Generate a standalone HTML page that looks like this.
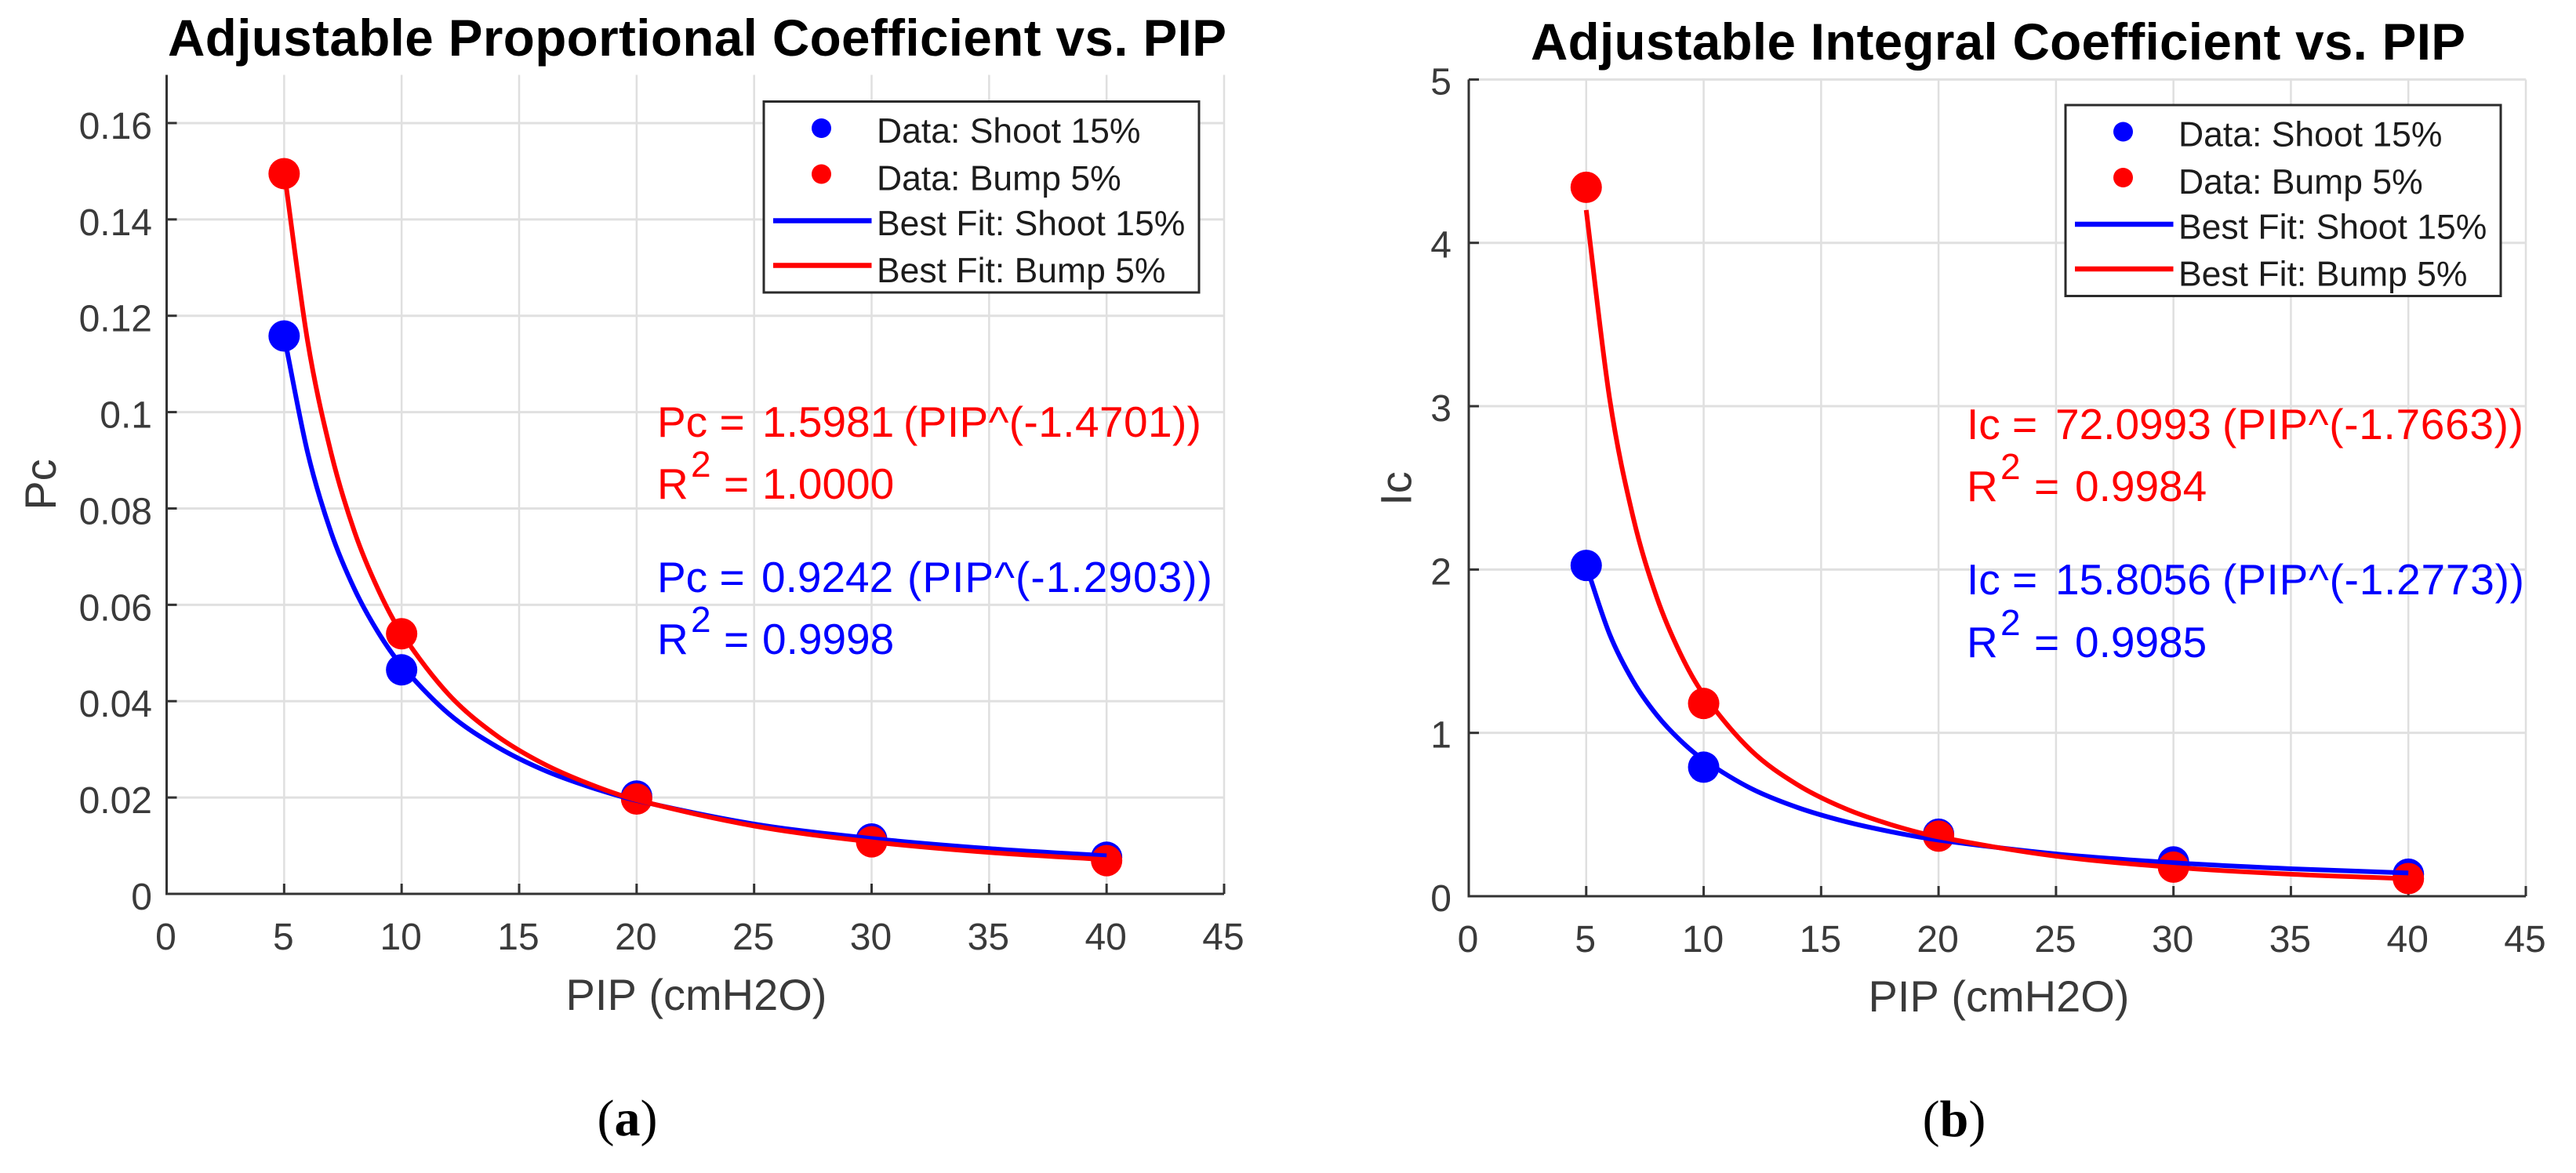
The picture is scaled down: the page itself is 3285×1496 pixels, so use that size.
<!DOCTYPE html>
<html lang="en">
<head>
<meta charset="utf-8">
<title>Adjustable coefficients vs. PIP</title>
<style>
  html, body { margin: 0; padding: 0; background: #ffffff; }
  svg { display: block; }
  text { font-family: "Liberation Sans", Arial, sans-serif; font-kerning: none; }
  .tick { font-size: 48px; fill: #3a3a3a; }
  .axis-title { font-size: 56px; fill: #3a3a3a; }
  .title { font-size: 65.6px; font-weight: bold; fill: #000000; }
  .legend-text { font-size: 44.5px; fill: #1c1c1c; }
  .anno { font-size: 55px; }
  .sup { font-size: 46px; }
  .red { fill: #ff0000; }
  .blue { fill: #0000ff; }
  .caption { font-family: "Liberation Serif", serif; font-size: 66px; fill: #000000; }
</style>
</head>
<body>
<svg id="figure" xmlns="http://www.w3.org/2000/svg" width="3285" height="1496" viewBox="0 0 3285 1496">
  <rect x="0" y="0" width="3285" height="1496" fill="#ffffff"/>

  <g id="panel-a"></g>
  <g id="panel-b"></g>

  <!-- Panel a static text -->
  <text class="title" x="214" y="71" textLength="1350">Adjustable Proportional Coefficient vs. PIP</text>
  <text class="axis-title" x="888" y="1288" text-anchor="middle">PIP (cmH2O)</text>
  <text class="axis-title" transform="translate(71 618) rotate(-90)" text-anchor="middle">Pc</text>

  <g>
    <text class="anno red" x="838" y="557">Pc =</text>
    <text class="anno red" x="972" y="557">1.5981</text>
    <text class="anno red" x="1152" y="557" textLength="380">(PIP^(-1.4701))</text>
    <text class="anno red" x="838" y="636">R</text>
    <text class="sup red" x="881" y="608">2</text>
    <text class="anno red" x="923" y="636">=</text>
    <text class="anno red" x="972" y="636">1.0000</text>
  </g>
  <g>
    <text class="anno blue" x="838" y="755">Pc =</text>
    <text class="anno blue" x="971" y="755">0.9242</text>
    <text class="anno blue" x="1157" y="755" textLength="389">(PIP^(-1.2903))</text>
    <text class="anno blue" x="838" y="834">R</text>
    <text class="sup blue" x="881" y="806">2</text>
    <text class="anno blue" x="923" y="834">=</text>
    <text class="anno blue" x="972" y="834">0.9998</text>
  </g>

  <g>
    <rect x="974" y="129.5" width="555" height="243.5" fill="#ffffff" stroke="#2b2b2b" stroke-width="3"/>
    <circle cx="1047.5" cy="163.5" r="12.5" fill="#0000ff"/>
    <text class="legend-text" x="1118" y="182">Data: Shoot 15%</text>
    <circle cx="1047.5" cy="222" r="12.5" fill="#ff0000"/>
    <text class="legend-text" x="1118" y="242.5">Data: Bump 5%</text>
    <line x1="986" y1="281.5" x2="1111.5" y2="281.5" stroke="#0000ff" stroke-width="6.5"/>
    <text class="legend-text" x="1118" y="300">Best Fit: Shoot 15%</text>
    <line x1="986" y1="338.5" x2="1111.5" y2="338.5" stroke="#ff0000" stroke-width="6.5"/>
    <text class="legend-text" x="1118" y="360">Best Fit: Bump 5%</text>
  </g>

  <text class="caption" x="800" y="1448" text-anchor="middle">(<tspan font-weight="bold">a</tspan>)</text>

  <!-- Panel b static text -->
  <text class="title" x="1952" y="76" textLength="1192">Adjustable Integral Coefficient vs. PIP</text>
  <text class="axis-title" x="2549" y="1290" text-anchor="middle">PIP (cmH2O)</text>
  <text class="axis-title" transform="translate(1799.5 623) rotate(-90)" text-anchor="middle">Ic</text>

  <g>
    <text class="anno red" x="2508" y="560">Ic =</text>
    <text class="anno red" x="2621" y="560">72.0993</text>
    <text class="anno red" x="2834" y="560" textLength="384">(PIP^(-1.7663))</text>
    <text class="anno red" x="2508" y="639">R</text>
    <text class="sup red" x="2551" y="611">2</text>
    <text class="anno red" x="2594" y="639">=</text>
    <text class="anno red" x="2646" y="639">0.9984</text>
  </g>
  <g>
    <text class="anno blue" x="2508" y="758">Ic =</text>
    <text class="anno blue" x="2621" y="758">15.8056</text>
    <text class="anno blue" x="2834" y="758" textLength="385">(PIP^(-1.2773))</text>
    <text class="anno blue" x="2508" y="838">R</text>
    <text class="sup blue" x="2551" y="810">2</text>
    <text class="anno blue" x="2594" y="838">=</text>
    <text class="anno blue" x="2646" y="838">0.9985</text>
  </g>

  <g transform="translate(1660 4.5)">
    <rect x="974" y="129.5" width="555" height="243.5" fill="#ffffff" stroke="#2b2b2b" stroke-width="3"/>
    <circle cx="1047.5" cy="163.5" r="12.5" fill="#0000ff"/>
    <text class="legend-text" x="1118" y="182">Data: Shoot 15%</text>
    <circle cx="1047.5" cy="222" r="12.5" fill="#ff0000"/>
    <text class="legend-text" x="1118" y="242.5">Data: Bump 5%</text>
    <line x1="986" y1="281.5" x2="1111.5" y2="281.5" stroke="#0000ff" stroke-width="6.5"/>
    <text class="legend-text" x="1118" y="300">Best Fit: Shoot 15%</text>
    <line x1="986" y1="338.5" x2="1111.5" y2="338.5" stroke="#ff0000" stroke-width="6.5"/>
    <text class="legend-text" x="1118" y="360">Best Fit: Bump 5%</text>
  </g>

  <text class="caption" x="2492" y="1449" text-anchor="middle">(<tspan font-weight="bold">b</tspan>)</text>
</svg>

<script>
// Shared categories and ticks
const pipCategories = [5, 10, 20, 30, 40];
const xTickValues = [0, 5, 10, 15, 20, 25, 30, 35, 40, 45];
const pcTickValues = [0, 0.02, 0.04, 0.06, 0.08, 0.1, 0.12, 0.14, 0.16];
const icTickValues = [0, 1, 2, 3, 4, 5];

// Panel a: measured points
const pcShoot = [0.1158, 0.0465, 0.0203, 0.0114, 0.0076];
const pcBump = [0.1495, 0.0540, 0.0197, 0.0108, 0.0069];

// Panel b: measured points
const icShoot = [2.025, 0.790, 0.380, 0.210, 0.135];
const icBump = [4.340, 1.180, 0.368, 0.178, 0.108];

// Best-fit curves read at these PIP positions
const fitPip = [5, 6, 7, 8, 9, 10, 12, 14, 16, 18, 20, 25, 30, 35, 40];
const pcFitShoot = [0.1158, 0.0916, 0.0750, 0.0632, 0.0543, 0.0474, 0.0374, 0.0307, 0.0258, 0.0222, 0.0194, 0.0145, 0.0115, 0.0094, 0.0079];
const pcFitBump = [0.1500, 0.1147, 0.0915, 0.0751, 0.0632, 0.0541, 0.0414, 0.0330, 0.0271, 0.0228, 0.0195, 0.0141, 0.0108, 0.0086, 0.0071];
const icFitShoot = [2.023, 1.603, 1.316, 1.110, 0.955, 0.835, 0.661, 0.543, 0.458, 0.394, 0.344, 0.259, 0.205, 0.168, 0.142];
const icFitBump = [4.201, 3.044, 2.319, 1.832, 1.488, 1.235, 0.895, 0.682, 0.538, 0.437, 0.363, 0.245, 0.177, 0.135, 0.107];

const SVG_NS = 'http://www.w3.org/2000/svg';

function node(parent, tag, attrs) {
  const el = document.createElementNS(SVG_NS, tag);
  for (const key in attrs) el.setAttribute(key, attrs[key]);
  parent.appendChild(el);
  return el;
}

function curvePath(xs, ys, xScale, yScale) {
  const pts = xs.map((x, i) => [xScale(x), yScale(ys[i])]);
  const n = pts.length;
  const slope = i => {
    const a = pts[Math.max(i - 1, 0)];
    const b = pts[Math.min(i + 1, n - 1)];
    return (b[1] - a[1]) / (b[0] - a[0]);
  };
  let d = 'M' + pts[0][0].toFixed(2) + ' ' + pts[0][1].toFixed(2);
  for (let i = 0; i < n - 1; i++) {
    const p1 = pts[i];
    const p2 = pts[i + 1];
    const h = (p2[0] - p1[0]) / 3;
    d += 'C' + (p1[0] + h).toFixed(2) + ' ' + (p1[1] + slope(i) * h).toFixed(2) + ' ' +
         (p2[0] - h).toFixed(2) + ' ' + (p2[1] - slope(i + 1) * h).toFixed(2) + ' ' +
         p2[0].toFixed(2) + ' ' + p2[1].toFixed(2);
  }
  return d;
}

function drawPanel(root, box, yTicks, shoot, bump, fitShoot, fitBump) {
  const xScale = v => box.left + (v - 0) / 45 * (box.right - box.left);
  const yScale = v => box.bottom - v / box.yMax * (box.bottom - box.top);

  // Grid lines
  xTickValues.forEach(v => {
    if (v === 0) return;
    const g = node(root, 'line', { x1: xScale(v), x2: xScale(v), y1: box.top, y2: box.bottom, stroke: '#dfdfdf', 'stroke-width': 2.5 });
    
    
  });
  yTicks.forEach(v => {
    if (v === 0) return;
    const g = node(root, 'line', { x1: box.left, x2: box.right, y1: yScale(v), y2: yScale(v), stroke: '#e0e0e0', 'stroke-width': 3 });
    
    
  });

  // Axis lines
  const xAxis = node(root, 'line', { x1: box.left - 1.5, x2: box.right, y1: box.bottom, y2: box.bottom, stroke: '#333333', 'stroke-width': 3 });
  
  
  const yAxis = node(root, 'line', { x1: box.left, x2: box.left, y1: box.top, y2: box.bottom, stroke: '#333333', 'stroke-width': 3 });
  
  

  // X ticks and labels
  xTickValues.forEach(v => {
    const t = node(root, 'line', { x1: xScale(v), x2: xScale(v), y1: box.bottom, y2: box.bottom - 13, stroke: '#333333', 'stroke-width': 3 });
    
    
    const label = node(root, 'text', { x: xScale(v) - 1, y: box.xLabelY, 'text-anchor': 'middle', class: 'tick' });
    label.textContent = String(v);
    
    
  });

  // Y ticks and labels
  yTicks.forEach(v => {
    const t = node(root, 'line', { x1: box.left, x2: box.left + 13, y1: yScale(v), y2: yScale(v), stroke: '#333333', 'stroke-width': 3 });
    
    
    const label = node(root, 'text', { x: box.yLabelX, y: yScale(v) + box.yLabelDy, 'text-anchor': 'end', class: 'tick' });
    label.textContent = String(v);
    
    
  });

  // Data markers
  pipCategories.forEach((p, i) => {
    const m = node(root, 'circle', { cx: xScale(p), cy: yScale(shoot[i]), r: 20, fill: '#0000ff' });
    
    
  });
  pipCategories.forEach((p, i) => {
    const m = node(root, 'circle', { cx: xScale(p), cy: yScale(bump[i]), r: 20, fill: '#ff0000' });
    
    
  });

  // Fit curves
  const fitA = node(root, 'path', { d: curvePath(fitPip, fitShoot, xScale, yScale), fill: 'none', stroke: '#0000ff', 'stroke-width': 6 });
  
  
  const fitB = node(root, 'path', { d: curvePath(fitPip, fitBump, xScale, yScale), fill: 'none', stroke: '#ff0000', 'stroke-width': 6 });
  
  
}

drawPanel(document.getElementById('panel-a'),
  { left: 212.5, right: 1561, top: 95.5, bottom: 1140, yMax: 0.17, xLabelY: 1211, yLabelX: 194, yLabelDy: 20 },
  pcTickValues, pcShoot, pcBump, pcFitShoot, pcFitBump);

drawPanel(document.getElementById('panel-b'),
  { left: 1873, right: 3221, top: 101.4, bottom: 1143, yMax: 5, xLabelY: 1214, yLabelX: 1851, yLabelDy: 19 },
  icTickValues, icShoot, icBump, icFitShoot, icFitBump);
</script>
</body>
</html>
